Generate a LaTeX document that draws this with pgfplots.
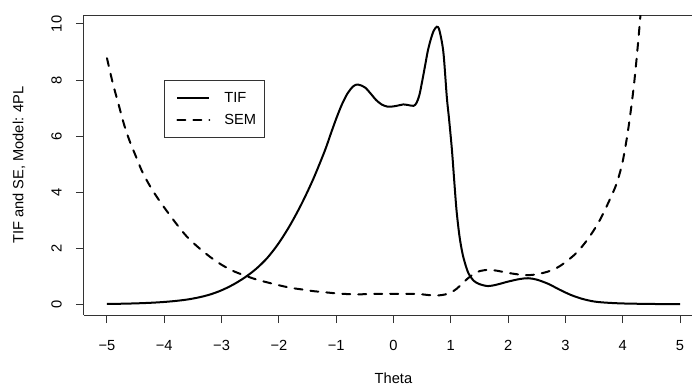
\documentclass[border=0pt]{standalone}
\usepackage{fontspec}
\setmainfont{Liberation Sans}
\usepackage{pgfplots}
\pgfplotsset{compat=1.18}

% test information function and its standard error
\pgfplotstableread{
theta tif
-5.0 0.013
-4.8 0.018
-4.6 0.027
-4.4 0.040
-4.2 0.058
-4.0 0.084
-3.8 0.12
-3.6 0.17
-3.4 0.245
-3.2 0.35
-3.0 0.50
-2.8 0.70
-2.6 0.95
-2.4 1.26
-2.2 1.66
-2.0 2.19
-1.8 2.84
-1.6 3.60
-1.4 4.47
-1.2 5.47
-1.1 6.05
-1.0 6.62
-0.9 7.13
-0.8 7.53
-0.7 7.78
-0.62 7.84
-0.5 7.74
-0.4 7.52
-0.3 7.28
-0.2 7.12
-0.1 7.05
0.0 7.06
0.1 7.10
0.17 7.13
0.25 7.11
0.35 7.08
0.40 7.18
0.45 7.45
0.50 7.95
0.55 8.50
0.60 9.05
0.65 9.45
0.70 9.75
0.755 9.90
0.80 9.78
0.87 9.00
0.93 7.40
0.97 6.60
1.02 5.50
1.06 4.40
1.10 3.35
1.15 2.45
1.20 1.85
1.25 1.45
1.31 1.10
1.40 0.84
1.50 0.72
1.65 0.65
1.80 0.70
2.00 0.81
2.20 0.90
2.35 0.93
2.50 0.88
2.70 0.73
2.90 0.52
3.10 0.33
3.30 0.19
3.50 0.10
3.70 0.06
4.00 0.03
4.50 0.012
5.00 0.005
}\tiftable

\pgfplotstableread{
theta sem
-5.0 8.78
-4.9 7.90
-4.8 7.15
-4.7 6.40
-4.6 5.80
-4.5 5.30
-4.4 4.80
-4.3 4.40
-4.2 4.05
-4.1 3.74
-4.0 3.45
-3.8 2.90
-3.6 2.40
-3.4 2.02
-3.2 1.69
-3.0 1.41
-2.8 1.19
-2.6 1.03
-2.4 0.89
-2.2 0.78
-2.0 0.68
-1.8 0.59
-1.6 0.53
-1.4 0.47
-1.2 0.43
-1.0 0.39
-0.8 0.365
-0.6 0.357
-0.4 0.365
-0.2 0.375
0.0 0.376
0.2 0.375
0.4 0.37
0.5 0.355
0.6 0.332
0.7 0.32
0.75 0.318
0.8 0.32
0.9 0.35
1.0 0.42
1.1 0.55
1.2 0.74
1.3 0.93
1.4 1.08
1.5 1.18
1.65 1.23
1.8 1.20
2.0 1.12
2.2 1.06
2.35 1.04
2.5 1.07
2.7 1.17
2.85 1.30
3.0 1.50
3.2 1.85
3.4 2.35
3.6 3.00
3.8 3.85
3.9 4.35
4.0 5.10
4.1 6.30
4.2 7.90
4.3 10.08
4.4 12.80
}\semtable

\begin{document}
\begin{tikzpicture}
\begin{axis}[
  at={(0,0)}, anchor=south west,
  scale only axis, width=456pt, height=225pt,
  xmin=-5.401, xmax=5.209, ymin=-0.382, ymax=10.32,
  axis x line=box, axis y line=left,
  axis line style={-, black!80, line width=0.75pt},
  xtick={-5,...,5},
  xticklabels={−5,−4,−3,−2,−1,0,1,2,3,4,5},
  ytick={0,2,4,6,8,10},
  yticklabels={0,2,4,6,8,10},
  xtick pos=bottom, ytick pos=left,
  tick align=outside, major tick length=6pt,
  tick style={black!80, line width=0.75pt},
  minor tick num=0,
  xticklabel style={font=\fontsize{11}{13}\selectfont, anchor=base},
  xticklabel shift=20.25pt,
  yticklabel style={font=\fontsize{11}{13}\selectfont, rotate=90, anchor=base},
  yticklabel shift=10.7pt,
  every axis x label/.style={at={(axis description cs:0.509,-0.2290)}, anchor=base, font=\fontsize{11}{13}\selectfont},
  every axis y label/.style={at={(axis description cs:-0.0996,0.5)}, rotate=90, anchor=base, font=\fontsize{11}{13}\selectfont},
  xlabel={Theta},
  ylabel={TIF and SE, Model: 4PL},
  legend style={at={(axis description cs:0.1316,0.7833)}, anchor=north west,
    draw=black!80, line width=0.6pt, fill=white,
    font=\fontsize{11}{13}\selectfont,
    inner xsep=6.5pt, inner ysep=9pt, row sep=8.6pt,
    cells={anchor=west},
    nodes={inner sep=0pt, text height=7.9pt, text depth=0pt},
    /tikz/every odd column/.append style={column sep=10.5pt}},
  legend image code/.code={\path (0pt,0pt); \draw[#1] (2.5pt,0pt) -- (26.5pt,0pt);},
]
\addplot[black, line width=1.5pt, smooth, tension=0.5] table[x=theta, y=tif] {\tiftable};
\addlegendentry{TIF}
\addplot[black, line width=1.5pt, line cap=round, dash pattern=on 6pt off 6pt, smooth, tension=0.5] table[x=theta, y=sem] {\semtable};
\addlegendentry{SEM}
\end{axis}
\pgfresetboundingbox
\useasboundingbox (-63pt,-54pt) rectangle (456pt,236.25pt);
\end{tikzpicture}
\end{document}
